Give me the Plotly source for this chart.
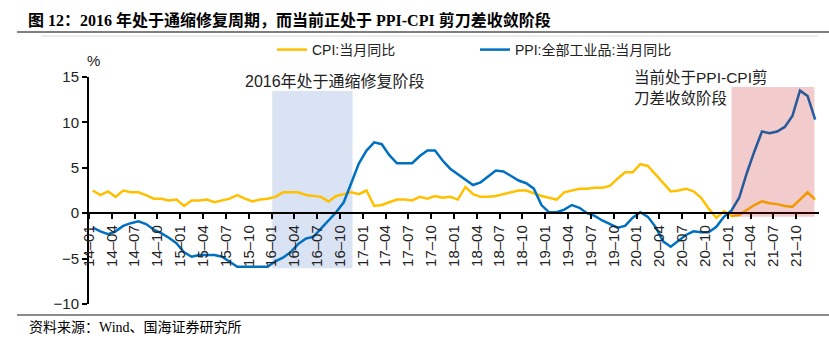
import numpy as np
import plotly.graph_objects as go

# ---- data (monthly, 2014-01 .. 2021-12) ----
years = list(range(2014, 2022))
month_labels = [f"{y % 100:02d}–{m:02d}" for y in years for m in range(1, 13)]

cpi = [2.5, 2.0, 2.4, 1.8, 2.5, 2.3, 2.3, 2.0, 1.6, 1.6, 1.4, 1.5,
       0.8, 1.4, 1.4, 1.5, 1.2, 1.4, 1.6, 2.0, 1.6, 1.3, 1.5, 1.6,
       1.8, 2.3, 2.3, 2.3, 2.0, 1.9, 1.8, 1.3, 1.9, 2.1, 2.3, 2.1,
       2.5, 0.8, 0.9, 1.2, 1.5, 1.5, 1.4, 1.8, 1.6, 1.9, 1.7, 1.8,
       1.5, 2.9, 2.1, 1.8, 1.8, 1.9, 2.1, 2.3, 2.5, 2.5, 2.2, 1.9,
       1.7, 1.5, 2.3, 2.5, 2.7, 2.7, 2.8, 2.8, 3.0, 3.8, 4.5, 4.5,
       5.4, 5.2, 4.3, 3.3, 2.4, 2.5, 2.7, 2.4, 1.7, 0.5, -0.5, 0.2,
       -0.3, -0.2, 0.4, 0.9, 1.3, 1.1, 1.0, 0.8, 0.7, 1.5, 2.3, 1.5]

ppi = [-1.6, -2.0, -2.3, -2.0, -1.4, -1.1, -0.9, -1.2, -1.8, -2.2, -2.7, -3.3,
       -4.3, -4.8, -4.6, -4.6, -4.6, -4.8, -5.4, -5.9, -5.9, -5.9, -5.9, -5.9,
       -5.3, -4.9, -4.3, -3.4, -2.8, -2.6, -1.7, -0.8, 0.1, 1.2, 3.3, 5.5,
       6.9, 7.8, 7.6, 6.4, 5.5, 5.5, 5.5, 6.3, 6.9, 6.9, 5.8, 4.9,
       4.3, 3.7, 3.1, 3.4, 4.1, 4.7, 4.6, 4.1, 3.6, 3.3, 2.7, 0.9,
       0.1, 0.1, 0.4, 0.9, 0.6, 0.0, -0.3, -0.8, -1.2, -1.6, -1.4, -0.5,
       0.1, -0.4, -1.5, -3.1, -3.7, -3.0, -2.4, -2.0, -2.1, -2.1, -1.5, -0.4,
       0.3, 1.7, 4.4, 6.8, 9.0, 8.8, 9.0, 9.5, 10.7, 13.5, 12.9, 10.3]

n = len(month_labels)
x_idx = np.arange(n) + 0.5          # data sit at category centres
tick_pos = list(range(0, n - 2, 3))  # ticks on category boundaries
tick_txt = [month_labels[i] for i in tick_pos]

# ---- layout geometry helpers ----
W, H = 829, 338
L, R, T, B = 89, 10, 77, 34
PW, PH = W - L - R, H - T - B

def xp(px):
    return (px - L) / PW

def yp(py):
    return (H - B - py) / PH

SANS = "Liberation Sans, Arial, Noto Sans CJK SC"
SERIF = "Liberation Serif, Noto Sans CJK SC"

fig = go.Figure()
fig.add_trace(go.Scatter(x=x_idx, y=cpi, mode="lines", name="CPI:当月同比",
                         line=dict(color="#FFC000", width=2.5)))
fig.add_trace(go.Scatter(x=x_idx, y=ppi, mode="lines", name="PPI:全部工业品:当月同比",
                         line=dict(color="#0070C0", width=2.5)))

shapes = [
    # 2016 shaded phase (below lines)
    dict(type="rect", xref="x", yref="y", x0=24.1, x1=34.65, y0=-6.06, y1=13.45,
         fillcolor="#DAE3F3", line=dict(width=0), layer="below"),
    # current phase (translucent, above)
    dict(type="rect", xref="x", yref="y", x0=84.5, x1=95.4, y0=-0.4, y1=13.9,
         fillcolor="rgba(192,0,0,0.2)", line=dict(width=0), layer="above"),
    # header/footer rules
    dict(type="line", xref="paper", yref="paper", x0=xp(17), x1=xp(829), y0=yp(32), y1=yp(32),
         line=dict(color="#7F7F7F", width=2)),
    dict(type="line", xref="paper", yref="paper", x0=xp(41), x1=xp(818), y0=yp(36), y1=yp(36),
         line=dict(color="#D9D9D9", width=1)),
    dict(type="line", xref="paper", yref="paper", x0=xp(17), x1=xp(829), y0=yp(315), y1=yp(315),
         line=dict(color="#8C8C8C", width=2)),
]

annotations = [
    dict(text="<b>图 12：2016 年处于通缩修复周期，而当前正处于 PPI-CPI 剪刀差收敛阶段</b>",
         xref="paper", yref="paper", x=xp(26), y=yp(20), xanchor="left", yanchor="middle",
         showarrow=False, font=dict(family=SERIF, size=16, color="#000000")),
    dict(text="资料来源：Wind、国海证券研究所",
         xref="paper", yref="paper", x=xp(27), y=yp(327), xanchor="left", yanchor="middle",
         showarrow=False, font=dict(family=SERIF, size=14, color="#000000")),
    dict(text="%", xref="paper", yref="paper", x=xp(93), y=yp(61), xanchor="center", yanchor="middle",
         showarrow=False, font=dict(family=SANS, size=15, color="#222222")),
    dict(text="2016年处于通缩修复阶段", xref="paper", yref="paper", x=xp(243), y=yp(82),
         xanchor="left", yanchor="middle", showarrow=False,
         font=dict(family=SANS, size=16, color="#222222")),
    dict(text="当前处于PPI-CPI剪", xref="paper", yref="paper", x=xp(632), y=yp(77.5),
         xanchor="left", yanchor="middle", showarrow=False,
         font=dict(family=SANS, size=15.5, color="#222222")),
    dict(text="刀差收敛阶段", xref="paper", yref="paper", x=xp(632), y=yp(98.3),
         xanchor="left", yanchor="middle", showarrow=False,
         font=dict(family=SANS, size=15.5, color="#222222")),
]

fig.update_layout(
    width=W, height=H,
    margin=dict(l=L, r=R, t=T, b=B, pad=0),
    paper_bgcolor="white", plot_bgcolor="white",
    showlegend=True,
    legend=dict(orientation="h", x=xp(272), y=yp(50), xanchor="left", yanchor="middle",
                font=dict(family=SANS, size=14, color="#222222"),
                entrywidth=158, entrywidthmode="pixels", bgcolor="rgba(0,0,0,0)",
                itemwidth=30, tracegroupgap=0),
    shapes=shapes,
    annotations=annotations,
    xaxis=dict(range=[0, n], tickmode="array", tickvals=tick_pos, ticktext=tick_txt,
               tickangle=-90, anchor="free", position=0.4, showline=True,
               linecolor="#000000", linewidth=2, ticks="outside", ticklen=5, tickwidth=1.5,
               tickcolor="#000000", showgrid=False, zeroline=False,
               tickfont=dict(family=SANS, size=15, color="#222222")),
    yaxis=dict(range=[-10, 15], dtick=5, tick0=0, showline=True, linecolor="#000000",
               linewidth=2, ticks="outside", ticklen=5, tickwidth=1.5, tickcolor="#000000",
               showgrid=False, zeroline=False,
               tickfont=dict(family=SANS, size=15, color="#222222")),
)

fig.write_html("out.html")
